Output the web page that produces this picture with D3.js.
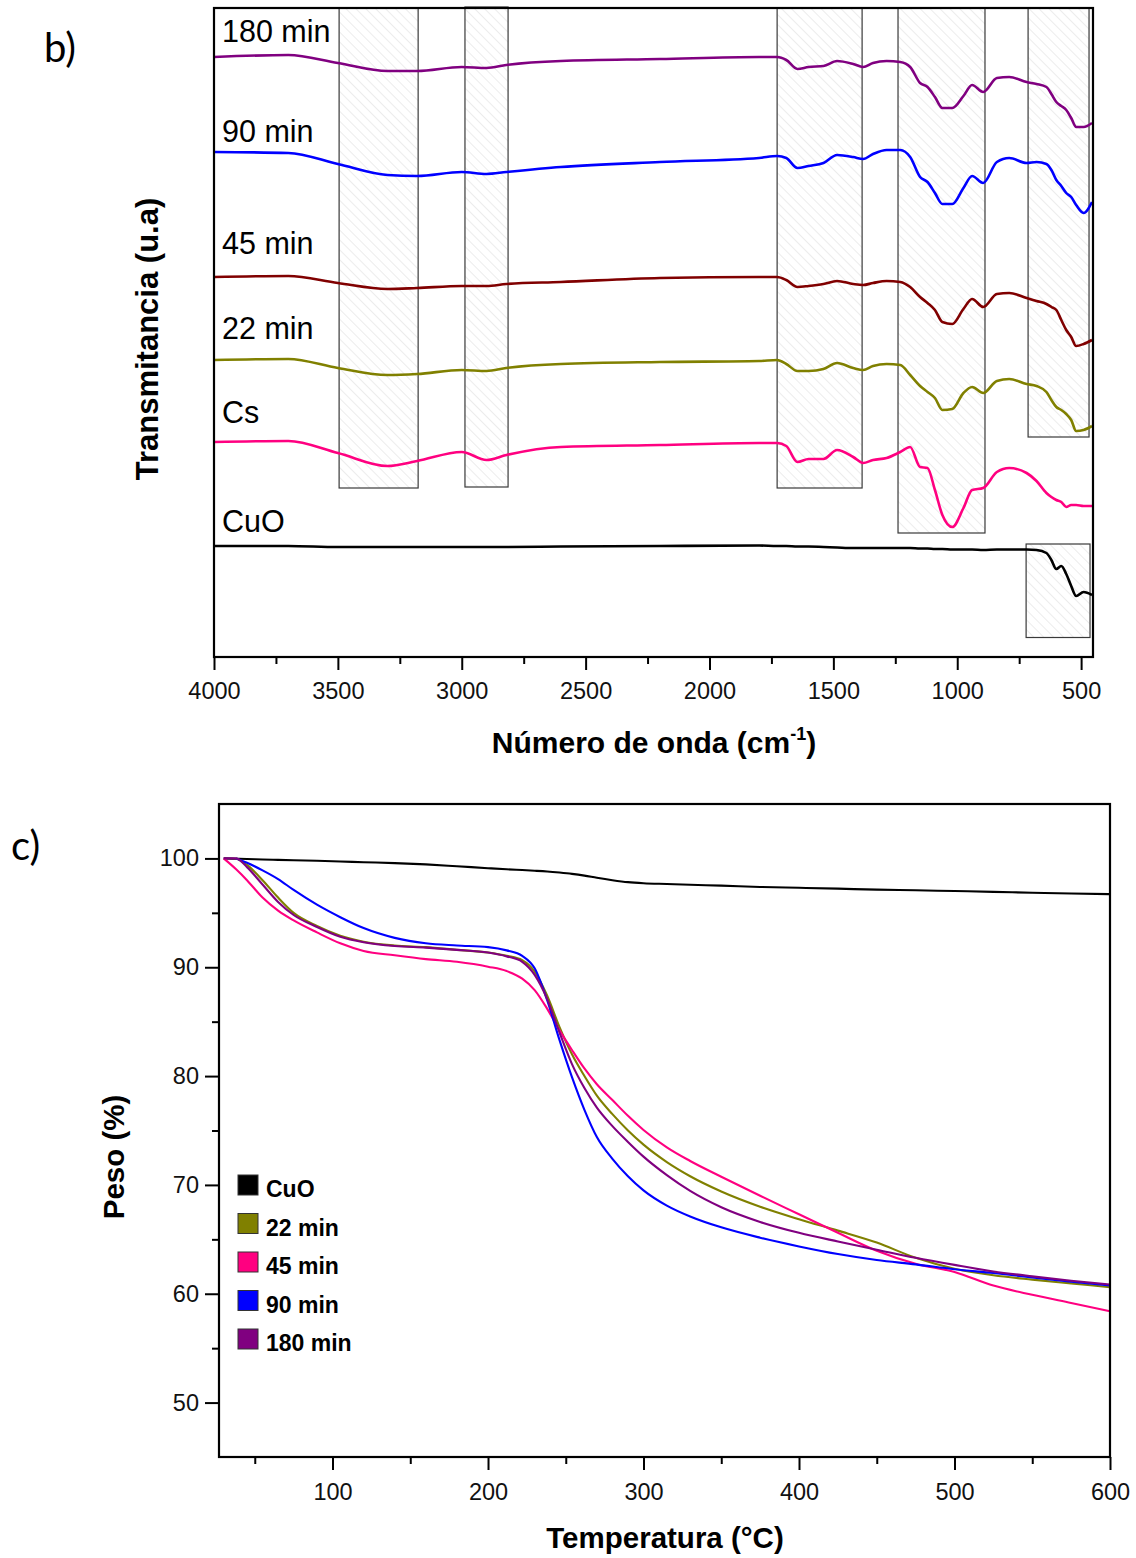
<!DOCTYPE html>
<html>
<head>
<meta charset="utf-8">
<script src="https://cdn.jsdelivr.net/npm/d3@7"></script>
<style>
  html, body { margin: 0; padding: 0; background: #fff; }
  svg { display: block; font-family: "Liberation Sans", Arial, sans-serif; }
</style>
</head>
<body>
<svg id="fig" width="1136" height="1558"></svg>
<script>
// ---------- FTIR spectra (panel b) ----------
// wavenumber grid in cm-1, shared by every trace
const wavenumbers = [4000,3700,3500,3300,3180,3000,2900,2820,2600,2200,1800,1727,1690,1645,1600,1540,1485,1420,1380,1340,1285,1230,1190,1150,1120,1090,1060,1020,975,940,895,840,790,720,680,640,620,600,580,560,540,520,490,456];

// transmittance, arbitrary units (traces are stacked with an offset)
const ftir180 = [600,602,594,586,586,590,589,592,596,598,600,600,597,588,590,591,596,593,590,594,596,595,590,574,570,560,549,549,561,572,565,579,580,575,573,570,563,555,551,547,539,530,530,534];
const ftir90  = [505,504,493,482,481,485,483,485,490,495,499,501,499,489,491,494,502,500,498,503,507,507,500,480,475,464,453,453,469,481,474,495,499,494,495,493,487,477,471,464,460,452,444,455];
const ftir45  = [380,381,374,368,369,371,371,373,375,379,380,380,377,370,371,373,376,373,372,374,376,375,370,360,354,347,335,333,348,358,350,363,364,359,356,353,350,347,337,327,320,311,313,317];
const ftir22  = [297,298,289,282,283,287,286,289,293,295,296,297,293,286,286,288,294,289,287,291,293,292,282,271,265,259,247,248,264,270,264,276,278,273,271,265,257,250,247,243,237,226,227,231];
const ftirCs  = [215,216,204,191,196,205,197,202,210,212,214,214,211,195,198,198,207,200,194,197,199,205,210,190,189,167,142,130,149,167,169,185,189,184,176,164,160,157,155,150,152,152,151,151];
const ftirCuO = [111,111,110,110,110,110,110,110,110.5,111,111.5,111,111,110.5,110.5,110,109.5,109,109,109,109,109,109,108.5,108.5,108,108,107.5,107.5,107.5,107,107.5,107.5,107.5,107,104,97,88,91,83,71,61,65,62];

const ftirNames  = ["180 min", "90 min", "45 min", "22 min", "Cs", "CuO"];
const ftirColors = ["#800080", "#0000ff", "#800000", "#808000", "#ff0080", "#000000"];
const ftirLabelLevels = [615, 515, 403, 318, 234, 125];

// absorption bands highlighted with hatched boxes (cm-1 / arbitrary units)
const bandFrom   = [3495, 2987, 1727, 1239, 714, 722];
const bandTo     = [3176, 2813, 1384,  888, 468, 464];
const bandTop    = [649, 650, 649, 649, 649, 113];
const bandBottom = [169, 170, 169, 124, 220, 19.5];

const ftirTicks = [4000, 3500, 3000, 2500, 2000, 1500, 1000, 500];
const ftirMinorTicks = [3750, 3250, 2750, 2250, 1750, 1250, 750];

// ---------- TGA curves (panel c) ----------
const temperatures = [30,38,45,55,65,75,90,105,120,140,160,180,200,212,222,230,238,246,254,262,270,280,290,300,315,330,350,375,400,425,450,475,500,525,550,575,600];

const tgaCuO = [100,99.97,99.95,99.9,99.87,99.83,99.78,99.72,99.65,99.57,99.45,99.28,99.1,99.0,98.93,98.87,98.8,98.7,98.58,98.42,98.22,98.0,97.82,97.72,97.65,97.58,97.5,97.38,97.3,97.22,97.13,97.07,97.0,96.93,96.85,96.78,96.72];
const tga22  = [null,100,99.4,98.0,96.4,95.0,93.8,92.9,92.35,92.0,91.85,91.6,91.35,91.05,90.65,89.6,87.4,84.5,82.0,80.0,78.2,76.5,75.0,73.7,72.1,70.8,69.4,68.0,66.85,65.8,64.7,63.3,62.3,61.7,61.3,60.95,60.6];
const tga45  = [100,99.0,98.0,96.4,95.2,94.3,93.2,92.2,91.5,91.1,90.75,90.5,90.05,89.65,88.95,87.9,86.2,84.2,82.4,80.7,79.25,77.8,76.35,75.05,73.45,72.2,70.75,69.0,67.3,65.6,63.95,62.75,62.0,60.75,59.9,59.15,58.4];
const tga90  = [null,100,99.6,98.9,98.1,97.1,95.75,94.6,93.6,92.7,92.2,92.0,91.85,91.55,91.05,89.9,87.0,83.3,79.9,76.9,74.4,72.4,70.8,69.5,68.1,67.1,66.1,65.15,64.35,63.65,63.1,62.7,62.25,61.9,61.5,61.1,60.75];
const tga180 = [100,100,99.2,97.6,96.0,94.8,93.7,92.8,92.3,91.95,91.8,91.6,91.35,91.0,90.5,89.3,87.1,84.0,81.1,78.9,77.1,75.4,73.95,72.6,70.9,69.45,67.95,66.6,65.6,64.8,64.05,63.3,62.65,62.05,61.6,61.2,60.85];

const tgaNames  = ["CuO", "22 min", "45 min", "90 min", "180 min"];
const tgaColors = ["#000000", "#808000", "#ff0080", "#0000ff", "#800080"];

const tgaXTicks = [100, 200, 300, 400, 500, 600];
const tgaXMinor = [50, 150, 250, 350, 450, 550];
const tgaYTicks = [50, 60, 70, 80, 90, 100];
const tgaYMinor = [55, 65, 75, 85, 95];

// ---------- drawing ----------
const svg = d3.select("#fig");

const defs = svg.append("defs");
const hatch = defs.append("pattern")
  .attr("id", "hatch")
  .attr("patternUnits", "userSpaceOnUse")
  .attr("width", 7).attr("height", 7)
  .attr("patternTransform", "rotate(-45)");
hatch.append("line")
  .attr("x1", 0).attr("y1", 0).attr("x2", 0).attr("y2", 7)
  .attr("stroke", "#d9d9d9").attr("stroke-width", 1);

// ===== Panel b: FTIR =====
const xB = d3.scaleLinear().domain([4000, 452]).range([214, 1093]);
const yB = d3.scaleLinear().domain([0, 649]).range([657, 8]);

const gB = svg.append("g");

// hatched bands
gB.selectAll("rect.band")
  .data(bandFrom.map((f, i) => ({ from: f, to: bandTo[i], top: bandTop[i], bottom: bandBottom[i] })))
  .join("rect")
  .attr("class", "band")
  .attr("x", d => xB(d.from))
  .attr("y", d => yB(d.top))
  .attr("width", d => xB(d.to) - xB(d.from))
  .attr("height", d => yB(d.bottom) - yB(d.top))
  .attr("fill", "url(#hatch)")
  .attr("stroke", "#3a3a3a")
  .attr("stroke-width", 1.2);

const ftirValues = [ftir180, ftir90, ftir45, ftir22, ftirCs, ftirCuO];
const ftirLine = d3.line()
  .x((d, i) => xB(wavenumbers[i]))
  .y(d => yB(d))
  .curve(d3.curveMonotoneX);

gB.selectAll("path.spec")
  .data(ftirValues)
  .join("path")
  .attr("class", "spec")
  .attr("d", ftirLine)
  .attr("fill", "none")
  .attr("stroke", (d, i) => ftirColors[i])
  .attr("stroke-width", 2.6)
  .attr("stroke-linejoin", "round");

// trace names
gB.selectAll("text.trace")
  .data(ftirNames)
  .join("text")
  .attr("class", "trace")
  .attr("x", xB(4000) + 8)
  .attr("y", (d, i) => yB(ftirLabelLevels[i]))
  .attr("font-size", 30.5)
  .attr("fill", "#000")
  .text(d => d);

// axis with major and minor ticks
const axB = gB.append("g").attr("transform", `translate(0,${yB(0)})`)
  .call(d3.axisBottom(xB).tickValues(ftirTicks).tickSize(13).tickSizeOuter(0).tickFormat(d3.format("d")));
axB.select(".domain").remove();
axB.selectAll(".tick line").attr("stroke-width", 2);
axB.selectAll("text").attr("y", 42).attr("dy", null).attr("font-size", 23.5)
  .attr("font-family", "Liberation Sans, Arial, sans-serif").attr("fill", "#111");

const axBm = gB.append("g").attr("transform", `translate(0,${yB(0)})`)
  .call(d3.axisBottom(xB).tickValues(ftirMinorTicks).tickSize(7).tickSizeOuter(0).tickFormat(""));
axBm.select(".domain").remove();
axBm.selectAll(".tick line").attr("stroke-width", 2);

// frame
gB.append("rect")
  .attr("x", xB(4000)).attr("y", yB(649))
  .attr("width", xB(452) - xB(4000)).attr("height", yB(0) - yB(649))
  .attr("fill", "none").attr("stroke", "#000").attr("stroke-width", 2.2);

// axis titles
const titleB = gB.append("text")
  .attr("x", 654).attr("y", 753)
  .attr("text-anchor", "middle")
  .attr("font-size", 30).attr("font-weight", "bold");
titleB.append("tspan").text("Número de onda (cm");
titleB.append("tspan").attr("font-size", 18).attr("dy", -13).text("-1");
titleB.append("tspan").attr("dy", 13).text(")");

gB.append("text")
  .attr("transform", "translate(158,339) rotate(-90)")
  .attr("text-anchor", "middle")
  .attr("font-size", 31).attr("font-weight", "bold")
  .text("Transmitancia (u.a)");

svg.append("text")
  .attr("x", 44).attr("y", 62)
  .attr("font-family", "Lato, 'Open Sans', sans-serif")
  .attr("font-size", 40)
  .text("b)");

// ===== Panel c: TGA =====
const xC = d3.scaleLinear().domain([27, 600]).range([219, 1110]);
const yC = d3.scaleLinear().domain([45, 105]).range([1457, 804]);

const gC = svg.append("g");

const tgaValues = [tgaCuO, tga22, tga45, tga90, tga180];
const tgaLine = d3.line()
  .defined(d => d != null)
  .x((d, i) => xC(temperatures[i]))
  .y(d => yC(d))
  .curve(d3.curveMonotoneX);

gC.selectAll("path.tga")
  .data(tgaValues)
  .join("path")
  .attr("class", "tga")
  .attr("d", tgaLine)
  .attr("fill", "none")
  .attr("stroke", (d, i) => tgaColors[i])
  .attr("stroke-width", 2.1);

const axCx = gC.append("g").attr("transform", `translate(0,${yC(45)})`)
  .call(d3.axisBottom(xC).tickValues(tgaXTicks).tickSize(13).tickSizeOuter(0));
axCx.select(".domain").remove();
axCx.selectAll(".tick line").attr("stroke-width", 2);
axCx.selectAll("text").attr("y", 43).attr("dy", null).attr("font-size", 23.5)
  .attr("font-family", "Liberation Sans, Arial, sans-serif").attr("fill", "#111");

const axCxm = gC.append("g").attr("transform", `translate(0,${yC(45)})`)
  .call(d3.axisBottom(xC).tickValues(tgaXMinor).tickSize(7).tickSizeOuter(0).tickFormat(""));
axCxm.select(".domain").remove();
axCxm.selectAll(".tick line").attr("stroke-width", 2);

const axCy = gC.append("g").attr("transform", `translate(${xC(27)},0)`)
  .call(d3.axisLeft(yC).tickValues(tgaYTicks).tickSize(14).tickPadding(6).tickSizeOuter(0));
axCy.select(".domain").remove();
axCy.selectAll(".tick line").attr("stroke-width", 2);
axCy.selectAll("text").attr("font-size", 23.5)
  .attr("font-family", "Liberation Sans, Arial, sans-serif").attr("fill", "#111");

const axCym = gC.append("g").attr("transform", `translate(${xC(27)},0)`)
  .call(d3.axisLeft(yC).tickValues(tgaYMinor).tickSize(7).tickSizeOuter(0).tickFormat(""));
axCym.select(".domain").remove();
axCym.selectAll(".tick line").attr("stroke-width", 2);

gC.append("rect")
  .attr("x", xC(27)).attr("y", yC(105))
  .attr("width", xC(600) - xC(27)).attr("height", yC(45) - yC(105))
  .attr("fill", "none").attr("stroke", "#000").attr("stroke-width", 2.2);

// legend
const leg = gC.append("g").attr("transform", "translate(238,1175)");
const legItem = leg.selectAll("g")
  .data(tgaNames)
  .join("g")
  .attr("transform", (d, i) => `translate(0,${i * 38.5})`);
legItem.append("rect")
  .attr("width", 20).attr("height", 20)
  .attr("fill", (d, i) => tgaColors[i])
  .attr("stroke", "#333").attr("stroke-width", 1);
legItem.append("text")
  .attr("x", 28).attr("y", 22)
  .attr("font-size", 23).attr("font-weight", "bold")
  .text(d => d);

gC.append("text")
  .attr("x", 665).attr("y", 1548)
  .attr("text-anchor", "middle")
  .attr("font-size", 29.5).attr("font-weight", "bold")
  .text("Temperatura (°C)");

gC.append("text")
  .attr("transform", "translate(124,1157) rotate(-90)")
  .attr("text-anchor", "middle")
  .attr("font-size", 29.5).attr("font-weight", "bold")
  .text("Peso (%)");

svg.append("text")
  .attr("x", 11).attr("y", 860)
  .attr("font-family", "Lato, 'Open Sans', sans-serif")
  .attr("font-size", 40)
  .text("c)");
</script>
</body>
</html>
